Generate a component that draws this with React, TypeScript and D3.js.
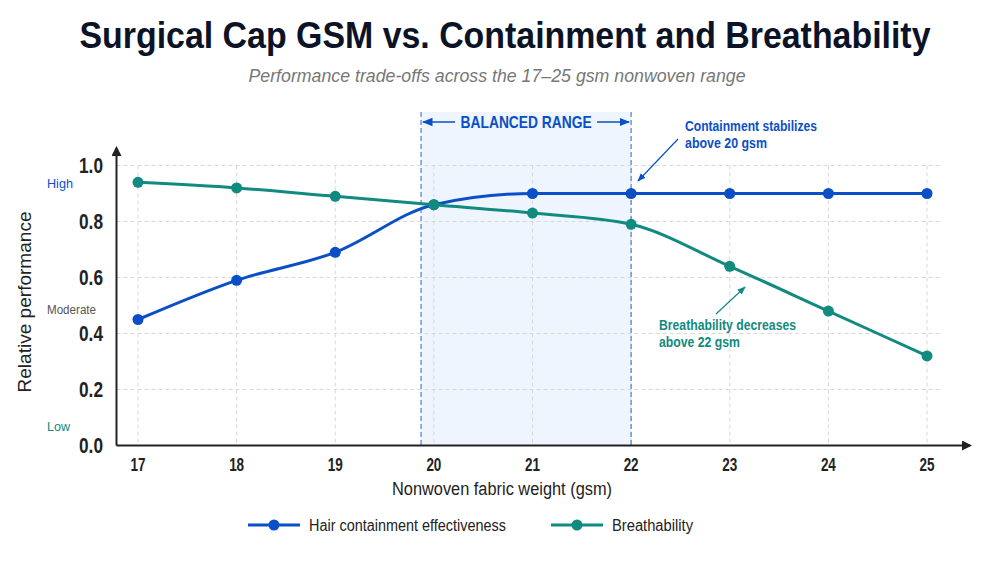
import React, { useEffect } from "react";
import * as d3 from "d3";

// Fabric weights (gsm) on the x axis
const gsmValues = [17, 18, 19, 20, 21, 22, 23, 24, 25];
// Relative performance scores per weight
const containment = [0.45, 0.59, 0.69, 0.86, 0.9, 0.9, 0.9, 0.9, 0.9];
const breathability = [0.94, 0.92, 0.89, 0.86, 0.83, 0.79, 0.64, 0.48, 0.32];
// Axis ticks
const yTicks = [0, 0.2, 0.4, 0.6, 0.8, 1.0];
// Qualitative levels shown beside the y axis
const levelNames = ["High", "Moderate", "Low"];
const levelValues = [0.937, 0.484, 0.067];
// Recommended weight band
const balancedRange = [19.87, 22];

const W = 1000;
const H = 562;
const BLUE = "#0b4fc6";
const TEAL = "#118a7f";
const FONT = "'Liberation Sans', Arial, sans-serif";

export default function App() {
  useEffect(() => {
    document.body.style.margin = "0";
  }, []);

  const x = d3.scaleLinear().domain([17, 25]).range([138, 927]);
  const y = d3.scaleLinear().domain([0, 1]).range([445.5, 165.5]);

  const line = d3
    .line<number>()
    .x((_, i) => x(gsmValues[i]))
    .y((d) => y(d))
    .curve(d3.curveMonotoneX);

  const levelColors = [BLUE, "#555", TEAL];
  const levelWidths = [26, 49, 23];
  const axisX = 116.5;
  const axisY = y(0);
  const gridRight = 942;
  const bandTop = 112;
  const bandMid = (x(balancedRange[0]) + x(balancedRange[1])) / 2;

  const series = [
    { name: "Hair containment effectiveness", values: containment, color: BLUE },
    { name: "Breathability", values: breathability, color: TEAL },
  ];

  return (
    <svg width={W} height={H} viewBox={`0 0 ${W} ${H}`} style={{ display: "block", background: "#fff" }}>
      <defs>
        <marker id="arrBlue" viewBox="0 0 10 10" refX="9" refY="5" markerWidth="7" markerHeight="7" orient="auto-start-reverse">
          <path d="M0,1 L10,5 L0,9 z" fill={BLUE} />
        </marker>
        <marker id="arrTeal" viewBox="0 0 10 10" refX="9" refY="5" markerWidth="7" markerHeight="7" orient="auto-start-reverse">
          <path d="M0,1 L10,5 L0,9 z" fill={TEAL} />
        </marker>
        <marker id="arrAxis" viewBox="0 0 10 10" refX="8" refY="5" markerWidth="5" markerHeight="5" orient="auto">
          <path d="M0,0 L10,5 L0,10 z" fill="#222" />
        </marker>
      </defs>

      {/* Title and subtitle */}
      <text x={505} y={48} textAnchor="middle" fontFamily={FONT} fontWeight="bold" fontSize={36} fill="#0d1326"
        textLength={851} lengthAdjust="spacingAndGlyphs">
        Surgical Cap GSM vs. Containment and Breathability
      </text>
      <text x={497} y={82} textAnchor="middle" fontFamily={FONT} fontStyle="italic" fontSize={19} fill="#777"
        textLength={497} lengthAdjust="spacingAndGlyphs">
        Performance trade-offs across the 17–25 gsm nonwoven range
      </text>

      {/* Balanced range band */}
      <rect x={x(balancedRange[0])} y={bandTop} width={x(balancedRange[1]) - x(balancedRange[0])}
        height={axisY - bandTop} fill="#eef5fe" />

      {/* Grid */}
      {yTicks.slice(1).map((t) => (
        <line key={"gy" + t} x1={axisX} x2={gridRight} y1={y(t)} y2={y(t)} stroke="#d9d9d9" strokeDasharray="4,3" />
      ))}
      {gsmValues.map((g) => (
        <line key={"gx" + g} x1={x(g)} x2={x(g)} y1={y(1)} y2={axisY} stroke="#d9d9d9" strokeDasharray="4,3" />
      ))}

      {/* Band edges and label */}
      {balancedRange.map((b) => (
        <line key={"b" + b} x1={x(b)} x2={x(b)} y1={bandTop} y2={axisY} stroke="#4a7fd6" strokeWidth={1.2} strokeDasharray="5,3" />
      ))}
      <line x1={bandMid - 71} x2={x(balancedRange[0]) + 2} y1={122} y2={122}
        stroke={BLUE} strokeWidth={1.5} markerEnd="url(#arrBlue)" />
      <line x1={bandMid + 71} x2={x(balancedRange[1]) - 2} y1={122} y2={122}
        stroke={BLUE} strokeWidth={1.5} markerEnd="url(#arrBlue)" />
      <text x={bandMid} y={128} textAnchor="middle" fontFamily={FONT}
        fontWeight="bold" fontSize={17} fill={BLUE} textLength={131} lengthAdjust="spacingAndGlyphs">
        BALANCED RANGE
      </text>

      {/* Axes */}
      <line x1={axisX} x2={axisX} y1={axisY} y2={148} stroke="#222" strokeWidth={2} markerEnd="url(#arrAxis)" />
      <line x1={axisX} x2={970} y1={axisY} y2={axisY} stroke="#222" strokeWidth={2} markerEnd="url(#arrAxis)" />

      {yTicks.map((t) => (
        <text key={"ty" + t} x={103} y={y(t) + 7.5} textAnchor="end" fontFamily={FONT} fontWeight="bold" fontSize={22} fill="#222"
          textLength={24} lengthAdjust="spacingAndGlyphs">
          {t.toFixed(1)}
        </text>
      ))}
      {gsmValues.map((g) => (
        <text key={"tx" + g} x={x(g)} y={471} textAnchor="middle" fontFamily={FONT} fontWeight="bold" fontSize={19} fill="#222"
          textLength={15} lengthAdjust="spacingAndGlyphs">
          {g}
        </text>
      ))}
      {levelNames.map((n, i) => (
        <text key={n} x={47} y={y(levelValues[i]) + 4.5} fontFamily={FONT} fontSize={13} fill={levelColors[i]}
          textLength={levelWidths[i]} lengthAdjust="spacingAndGlyphs">
          {n}
        </text>
      ))}

      <text x={502} y={495} textAnchor="middle" fontFamily={FONT} fontSize={18} fill="#222"
        textLength={220} lengthAdjust="spacingAndGlyphs">
        Nonwoven fabric weight (gsm)
      </text>
      <text transform={`translate(31,302) rotate(-90)`} textAnchor="middle" fontFamily={FONT} fontSize={19} fill="#222"
        textLength={181} lengthAdjust="spacingAndGlyphs">
        Relative performance
      </text>

      {/* Series */}
      {series.map((s) => (
        <g key={s.name}>
          <path d={line(s.values) || ""} fill="none" stroke={s.color} strokeWidth={3} />
          {s.values.map((v, i) => (
            <circle key={i} cx={x(gsmValues[i])} cy={y(v)} r={5.5} fill={s.color} />
          ))}
        </g>
      ))}

      {/* Annotations */}
      <line x1={678} y1={139} x2={638} y2={181} stroke={BLUE} strokeWidth={1.2} markerEnd="url(#arrBlue)" />
      <text fontFamily={FONT} fontWeight="bold" fontSize={15} fill={BLUE}>
        <tspan x={685} y={131} textLength={132} lengthAdjust="spacingAndGlyphs">Containment stabilizes</tspan>
        <tspan x={685} y={148} textLength={82} lengthAdjust="spacingAndGlyphs">above 20 gsm</tspan>
      </text>
      <line x1={716} y1={314} x2={745} y2={287} stroke={TEAL} strokeWidth={1.2} markerEnd="url(#arrTeal)" />
      <text fontFamily={FONT} fontWeight="bold" fontSize={15} fill={TEAL}>
        <tspan x={659} y={330} textLength={137} lengthAdjust="spacingAndGlyphs">Breathability decreases</tspan>
        <tspan x={659} y={347} textLength={81} lengthAdjust="spacingAndGlyphs">above 22 gsm</tspan>
      </text>

      {/* Legend */}
      {series.map((s, i) => {
        const lx = i === 0 ? 248 : 551;
        return (
          <g key={"lg" + s.name}>
            <line x1={lx} x2={lx + 52} y1={525} y2={525} stroke={s.color} strokeWidth={3} />
            <circle cx={lx + 26} cy={525} r={5.5} fill={s.color} />
            <text x={lx + 61} y={531} fontFamily={FONT} fontSize={16} fontWeight={500} fill="#222"
              textLength={i === 0 ? 197 : 81} lengthAdjust="spacingAndGlyphs">
              {s.name}
            </text>
          </g>
        );
      })}
    </svg>
  );
}
